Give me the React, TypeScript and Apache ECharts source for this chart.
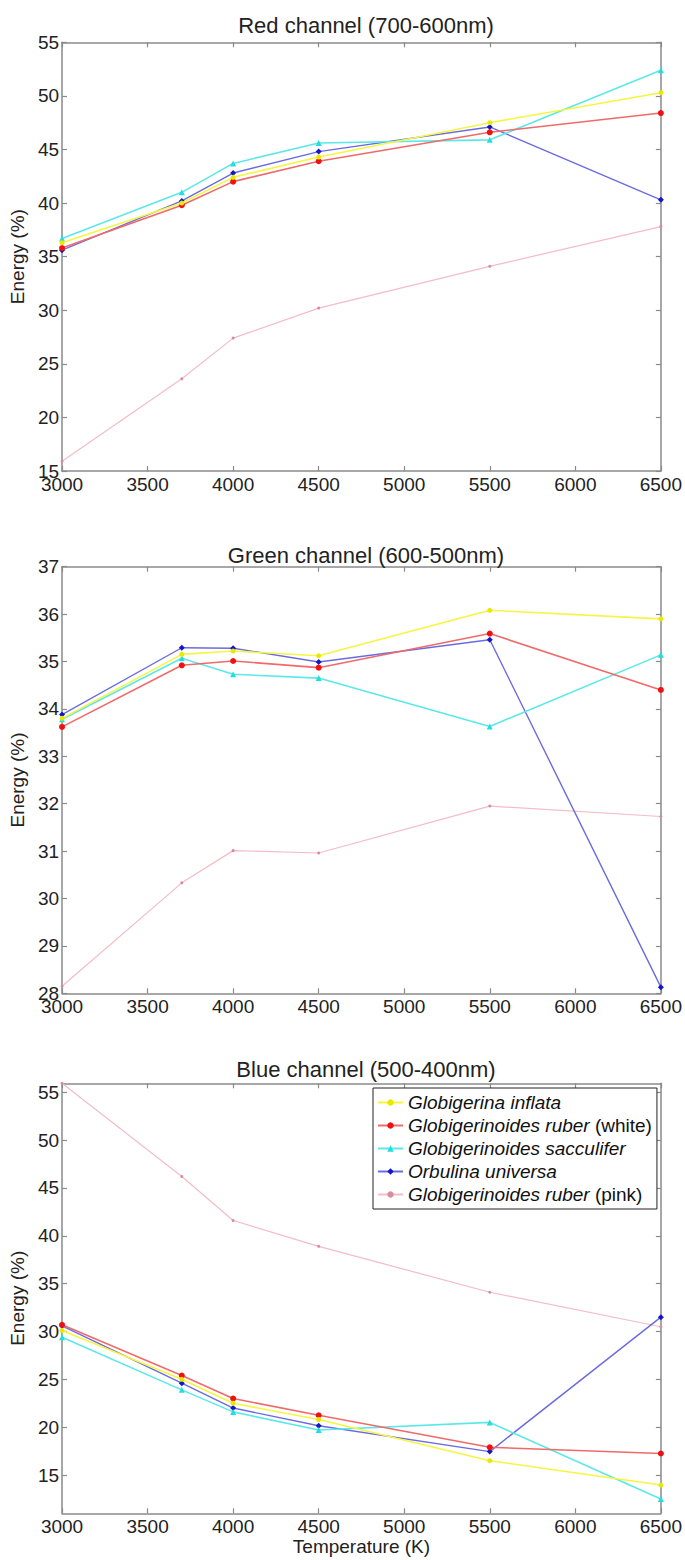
import React, { useEffect, useRef } from "react";
import * as echarts from "echarts";

const TEMPS = [3000, 3700, 4000, 4500, 5500, 6500];
const SPECIES = [
  "Globigerina inflata",
  "Globigerinoides ruber (white)",
  "Globigerinoides sacculifer",
  "Orbulina universa",
  "Globigerinoides ruber (pink)",
];
const X_TICKS_MIN = 3000;
const X_TICKS_MAX = 6500;

// Red channel (700-600nm)
const RED_INFLATA = [36.3, 40.0, 42.4, 44.3, 47.5, 50.3];
const RED_RUBER_WHITE = [35.8, 39.8, 42.0, 43.9, 46.6, 48.4];
const RED_SACCULIFER = [36.7, 41.0, 43.7, 45.6, 45.9, 52.4];
const RED_UNIVERSA = [35.6, 40.2, 42.8, 44.8, 47.1, 40.3];
const RED_RUBER_PINK = [15.9, 23.6, 27.4, 30.2, 34.1, 37.8];

// Green channel (600-500nm)
const GREEN_INFLATA = [33.8, 35.15, 35.22, 35.12, 36.08, 35.9];
const GREEN_RUBER_WHITE = [33.62, 34.92, 35.01, 34.87, 35.59, 34.4];
const GREEN_SACCULIFER = [33.78, 35.07, 34.73, 34.65, 33.63, 35.14];
const GREEN_UNIVERSA = [33.88, 35.29, 35.28, 34.99, 35.46, 28.13];
const GREEN_RUBER_PINK = [28.15, 30.33, 31.01, 30.96, 31.95, 31.73];

// Blue channel (500-400nm)
const BLUE_INFLATA = [30.1, 25.0, 22.5, 20.8, 16.5, 13.95];
const BLUE_RUBER_WHITE = [30.7, 25.4, 23.0, 21.25, 17.9, 17.25];
const BLUE_SACCULIFER = [29.4, 23.9, 21.6, 19.7, 20.5, 12.5];
const BLUE_UNIVERSA = [30.6, 24.6, 22.0, 20.15, 17.45, 31.5];
const BLUE_RUBER_PINK = [55.94, 46.2, 41.6, 38.9, 34.1, 30.5];

const TITLES = ["Red channel (700-600nm)", "Green channel (600-500nm)", "Blue channel (500-400nm)"];
const Y_RANGES = [
  { min: 15, max: 55 },
  { min: 28, max: 37 },
  { min: 11, max: 55.94 },
];
const Y_TICKS = [
  [15, 20, 25, 30, 35, 40, 45, 50, 55],
  [28, 29, 30, 31, 32, 33, 34, 35, 36, 37],
  [15, 20, 25, 30, 35, 40, 45, 50, 55],
];

const PANELS = [
  [RED_INFLATA, RED_RUBER_WHITE, RED_SACCULIFER, RED_UNIVERSA, RED_RUBER_PINK],
  [GREEN_INFLATA, GREEN_RUBER_WHITE, GREEN_SACCULIFER, GREEN_UNIVERSA, GREEN_RUBER_PINK],
  [BLUE_INFLATA, BLUE_RUBER_WHITE, BLUE_SACCULIFER, BLUE_UNIVERSA, BLUE_RUBER_PINK],
];

const FONT = "'Liberation Sans', Arial, Helvetica, sans-serif";
const AXIS_COLOR = "#8a8a8a";
const TEXT_COLOR = "#222";

const STYLES = [
  { line: "#f5f542", marker: "#e8e800", symbol: "circle", size: 5, width: 1.6 },
  { line: "#f06a6a", marker: "#f01010", symbol: "circle", size: 6, width: 1.6 },
  { line: "#5ce8e8", marker: "#22dede", symbol: "triangle", size: 6, width: 1.6 },
  { line: "#6b6be0", marker: "#1515c8", symbol: "diamond", size: 6, width: 1.4 },
  { line: "#f3bcc8", marker: "#d88b9c", symbol: "circle", size: 3, width: 1.2 },
];

const GRIDS = [
  { left: 61, top: 42.3, width: 600, height: 428.7 },
  { left: 61, top: 566.7, width: 600, height: 426.6 },
  { left: 61, top: 1083.3, width: 600, height: 430 },
];
const TITLE_CENTERS = [21, 551, 1065];

export default function App() {
  const ref = useRef<HTMLDivElement>(null);
  useEffect(() => {
    document.body.style.margin = "0";
    if (!ref.current) return;
    const chart = echarts.init(ref.current, null, { renderer: "svg" });

    const xAxes: any[] = [];
    const yAxes: any[] = [];
    const series: any[] = [];
    const titles: any[] = [];

    GRIDS.forEach((g, i) => {
      titles.push({
        text: TITLES[i],
        left: g.left + g.width / 2,
        textAlign: "center",
        top: TITLE_CENTERS[i] - 12,
        textStyle: { fontFamily: FONT, fontSize: 22, fontWeight: "normal", color: TEXT_COLOR },
      });
      const baseX = {
        gridIndex: i,
        type: "value",
        min: X_TICKS_MIN,
        max: X_TICKS_MAX,
        interval: 500,
        axisLine: { show: true, onZero: false, lineStyle: { color: AXIS_COLOR, width: 1.5 } },
        axisTick: { show: true, inside: true, length: 5, lineStyle: { color: AXIS_COLOR, width: 1.2 } },
        splitLine: { show: false },
      };
      xAxes.push({
        ...baseX,
        position: "bottom",
        axisLabel: {
          show: true,
          fontFamily: FONT,
          fontSize: 19,
          color: TEXT_COLOR,
          margin: 4,
          formatter: (v: number) => String(v),
        },
        ...(i === 2
          ? {
              name: "Temperature (K)",
              nameLocation: "middle",
              nameGap: 24,
              nameTextStyle: { fontFamily: FONT, fontSize: 19, color: TEXT_COLOR },
            }
          : {}),
      });
      xAxes.push({ ...baseX, position: "top", axisLabel: { show: false } });

      const r = Y_RANGES[i];
      const baseY = {
        gridIndex: i,
        type: "value",
        min: r.min,
        max: r.max,
        axisLine: { show: true, onZero: false, lineStyle: { color: AXIS_COLOR, width: 1.5 } },
        axisTick: {
          show: true,
          inside: true,
          length: 5,
          customValues: Y_TICKS[i],
          lineStyle: { color: AXIS_COLOR, width: 1.2 },
        },
        splitLine: { show: false },
      };
      yAxes.push({
        ...baseY,
        position: "left",
        axisLabel: {
          show: true,
          customValues: Y_TICKS[i],
          fontFamily: FONT,
          fontSize: 19,
          color: TEXT_COLOR,
          margin: 3,
          formatter: (v: number) => String(v),
        },
        name: "Energy (%)",
        nameLocation: "middle",
        nameGap: 27,
        nameRotate: 90,
        nameTextStyle: { fontFamily: FONT, fontSize: 19, color: TEXT_COLOR },
      });
      yAxes.push({ ...baseY, position: "right", axisLabel: { show: false } });

      PANELS[i].forEach((vals, k) => {
        const s = STYLES[k];
        series.push({
          type: "line",
          name: SPECIES[k],
          xAxisIndex: i * 2,
          yAxisIndex: i * 2,
          data: TEMPS.map((t, j) => [t, vals[j]]),
          symbol: s.symbol,
          symbolSize: s.size,
          showSymbol: true,
          lineStyle: { color: s.line, width: s.width },
          itemStyle: { color: s.marker },
          z: 10 - k,
        });
      });
    });

    chart.setOption({
      animation: false,
      backgroundColor: "#ffffff",
      title: titles,
      grid: GRIDS.map((g) => ({ ...g, containLabel: false })),
      xAxis: xAxes,
      yAxis: yAxes,
      legend: {
        data: SPECIES,
        orient: "vertical",
        left: 373,
        top: 1088,
        itemWidth: 25,
        itemHeight: 8,
        itemGap: 4,
        padding: [5, 5, 5, 4],
        borderColor: "#222",
        borderWidth: 1,
        backgroundColor: "#ffffff",
        formatter: (name: string) => {
          const m = name.match(/^(.*?) (\(.*\))$/);
          if (m) return `{i|${m[1]}} {n|${m[2]}}`;
          return `{i|${name}}`;
        },
        textStyle: {
          fontFamily: FONT,
          fontSize: 19,
          color: "#111",
          rich: {
            i: { fontFamily: FONT, fontSize: 19, fontStyle: "italic", color: "#111", lineHeight: 20 },
            n: { fontFamily: FONT, fontSize: 19, color: "#111", lineHeight: 20 },
          },
        },
      },
      series,
    });
    return () => chart.dispose();
  }, []);
  return (
    <div
      ref={ref}
      style={{ position: "absolute", left: 0, top: 0, width: 685, height: 1560 }}
    />
  );
}
